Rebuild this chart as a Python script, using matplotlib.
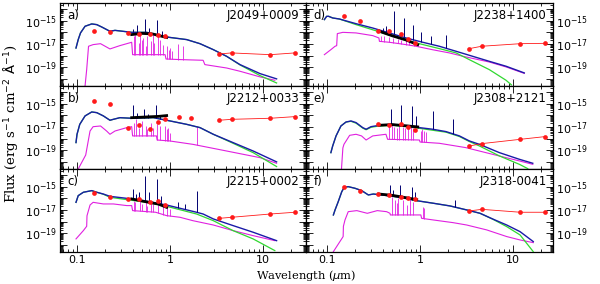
import numpy as np
import matplotlib
matplotlib.use("Agg")
import matplotlib.pyplot as plt
from matplotlib.ticker import LogLocator, NullFormatter, FixedFormatter, FixedLocator

# ---------------- data (log10 flux, wavelengths in micron) ----------------
names = ["J2049+0009", "J2212+0033", "J2215+0002", "J2238+1400", "J2308+2121", "J2318-0041"]
tags = ["a)", "b)", "c)", "d)", "e)", "f)"]

galex = [0.1528, 0.2271]
sdss = [0.3551, 0.4686, 0.6166, 0.7480, 0.8932]
tmass = [1.235, 1.662]
wise = [3.4, 4.6, 12.0, 22.0]

# --- a) J2049+0009
a_blue_wl = [0.0975, 0.103, 0.109, 0.122, 0.144, 0.163, 0.184, 0.226, 0.256, 0.387, 0.561, 0.92, 1.51, 2.10, 2.92, 4.06, 5.66, 9.29, 14.0]
a_blue_f = [-17.35, -16.63, -16.06, -15.49, -15.29, -15.35, -15.55, -15.92, -15.84, -16.01, -16.01, -16.41, -16.63, -16.98, -17.49, -18.06, -18.77, -19.54, -19.99]
a_green_wl = a_blue_wl
a_green_f = [-17.35, -16.63, -16.06, -15.49, -15.29, -15.35, -15.55, -15.92, -15.84, -16.01, -16.01, -16.41, -16.63, -16.98, -17.49, -18.06, -18.80, -19.71, -20.34]
a_mag_wl = [0.122, 0.127, 0.133, 0.149, 0.179, 0.226, 0.288, 0.387, 0.396, 0.885, 0.906, 1.28, 2.27, 2.37, 4.06, 5.66, 9.29, 13.4]
a_mag_f = [-20.6, -19.2, -17.2, -17.06, -16.98, -17.43, -17.15, -16.86, -17.92, -17.92, -18.29, -18.34, -18.40, -18.77, -19.06, -19.34, -19.82, -20.11]
a_nav_wl = [0.396, 0.445, 0.538, 0.600, 0.718, 0.813, 0.905]
a_nav_top = [-15.72, -15.35, -14.87, -15.64, -14.98, -15.92, -16.2]
a_ml_wl = [0.410, 0.424, 0.460, 0.480, 0.500, 0.516, 0.552, 0.570, 0.624, 0.650, 0.677, 0.748, 0.780, 0.847, 0.935, 0.966, 1.0, 1.05, 1.23, 1.39]
a_ml_top = [-16.35, -16.21, -16.92, -16.06, -16.63, -16.49, -17.20, -16.35, -16.78, -16.21, -16.92, -16.35, -16.63, -17.06, -17.20, -17.49, -17.35, -17.63, -16.98, -17.20]
a_obs_wl = [0.387, 0.5, 0.65, 0.92]
a_obs_f = [-16.2, -16.1, -16.15, -16.45]
a_phot_wl = galex + sdss + wise
a_phot_f = [-15.86, -16.01, -16.06, -16.15, -16.15, -16.26, -16.35, -17.86, -17.77, -17.92, -17.77]

# --- b) J2212+0033
b_blue_wl = [0.0975, 0.1, 0.107, 0.122, 0.144, 0.163, 0.192, 0.226, 0.246, 0.289, 0.387, 0.66, 0.92, 1.51, 2.10, 2.92, 4.76, 7.83, 14.0]
b_blue_f = [-18.34, -17.63, -16.78, -16.06, -15.72, -15.78, -16.06, -16.43, -16.35, -16.21, -16.26, -16.21, -16.43, -16.78, -17.06, -17.63, -18.34, -19.06, -19.99]
b_green_wl = b_blue_wl
b_green_f = [-18.34, -17.63, -16.78, -16.06, -15.72, -15.78, -16.06, -16.43, -16.35, -16.21, -16.26, -16.21, -16.43, -16.78, -17.06, -17.63, -18.40, -19.20, -20.39]
b_mag_wl = [0.103, 0.124, 0.138, 0.149, 0.179, 0.208, 0.226, 0.256, 0.343, 0.387, 0.396, 0.715, 0.727, 0.99, 1.76, 4.06, 9.29, 14.0]
b_mag_f = [-20.6, -19.4, -17.35, -16.98, -16.92, -17.35, -17.63, -17.35, -17.06, -16.98, -17.77, -17.77, -18.12, -18.20, -18.49, -19.06, -19.63, -20.11]
b_nav_wl = [0.396, 0.445, 0.525, 0.584, 0.706, 0.780]
b_nav_top = [-15.15, -15.78, -15.44, -15.92, -15.15, -16.01]
b_ml_wl = [0.410, 0.431, 0.467, 0.496, 0.552, 0.570, 0.619, 0.659, 0.727, 0.780, 0.890, 0.920, 0.958, 1.0, 1.96]
b_ml_top = [-16.63, -16.35, -17.06, -16.49, -16.92, -17.20, -16.63, -17.06, -16.78, -16.92, -16.92, -17.20, -17.06, -17.49, -16.92]
b_obs_wl = [0.387, 0.55, 0.75, 0.92]
b_obs_f = [-16.21, -16.15, -16.10, -16.03]
b_phot_wl = galex + sdss + tmass + wise
b_phot_f = [-14.78, -15.01, -17.12, -16.86, -17.20, -16.58, -16.35, -16.15, -16.24, -16.43, -16.35, -16.26, -16.12]

# --- c) J2215+0002
c_blue_wl = [0.0975, 0.103, 0.117, 0.144, 0.163, 0.192, 0.226, 0.343, 0.561, 0.92, 1.28, 1.93, 2.27, 2.92, 4.76, 7.83, 14.0]
c_blue_f = [-16.35, -15.78, -15.49, -15.35, -15.49, -15.64, -15.84, -16.01, -16.26, -16.58, -16.86, -17.20, -17.35, -17.77, -18.34, -18.91, -19.63]
c_green_wl = [0.0975, 0.103, 0.117, 0.144, 0.163, 0.192, 0.226, 0.343, 0.561, 0.92, 1.93, 2.92, 4.76, 7.83, 13.4]
c_green_f = [-16.35, -15.78, -15.49, -15.35, -15.49, -15.66, -15.92, -16.12, -16.35, -16.69, -17.35, -17.92, -18.77, -19.48, -20.48]
c_mag_wl = [0.0975, 0.117, 0.127, 0.128, 0.138, 0.149, 0.192, 0.246, 0.343, 0.387, 0.396, 0.70, 0.92, 1.28, 1.76, 2.92, 4.76, 7.83, 13.4]
c_mag_f = [-19.48, -18.77, -18.4, -17.5, -16.58, -16.35, -16.49, -16.49, -16.63, -16.63, -17.06, -17.20, -17.49, -17.63, -17.92, -18.29, -18.77, -19.2, -19.63]
c_nav_wl = [0.396, 0.431, 0.460, 0.538, 0.590, 0.718, 0.796, 1.23, 1.45, 1.93]
c_nav_top = [-15.21, -15.64, -15.49, -14.13, -15.49, -14.35, -15.78, -16.29, -16.49, -15.35]
c_ml_wl = [0.410, 0.424, 0.476, 0.496, 0.552, 0.570, 0.619, 0.659, 0.748, 0.847, 0.920, 1.0]
c_ml_top = [-16.21, -16.35, -16.06, -16.49, -16.35, -16.63, -16.21, -16.49, -16.35, -16.63, -16.78, -16.92]
c_obs_wl = [0.387, 0.55, 0.75, 0.92]
c_obs_f = [-16.06, -16.30, -16.50, -16.78]
c_phot_wl = galex + sdss + wise
c_phot_f = [-15.58, -15.86, -16.06, -16.06, -16.35, -16.26, -16.58, -17.72, -17.63, -17.35, -17.20]

# --- d) J2238+1400
d_blue_wl = [0.0936, 0.099, 0.104, 0.115, 0.136, 0.205, 0.310, 0.468, 0.707, 1.07, 1.61, 2.44, 3.68, 5.56, 8.41, 13.2]
d_blue_f = [-14.92, -14.64, -14.64, -14.78, -14.87, -15.27, -15.64, -16.06, -16.49, -16.86, -17.20, -17.63, -18.06, -18.49, -18.91, -19.48]
d_green_wl = [0.0936, 0.099, 0.104, 0.115, 0.136, 0.205, 0.35, 0.707, 1.61, 2.44, 3.68, 5.56, 8.41, 9.6]
d_green_f = [-14.92, -14.64, -14.64, -14.78, -14.87, -15.35, -15.92, -16.70, -17.40, -17.77, -18.49, -19.20, -20.11, -20.5]
d_mag_wl = [0.0936, 0.110, 0.122, 0.127, 0.129, 0.148, 0.205, 0.310, 0.361, 0.366, 0.468, 0.707, 0.905, 1.35, 2.07, 2.9, 5.56, 8.41, 13.2]
d_mag_f = [-17.92, -17.49, -17.20, -17.15, -16.12, -16.01, -16.06, -16.29, -16.49, -16.78, -16.86, -17.06, -17.20, -17.49, -17.77, -18.06, -18.55, -18.97, -19.52]
d_nav_wl = [0.404, 0.431, 0.529, 0.678, 0.834, 1.02, 1.31, 1.90]
d_nav_top = [-15.64, -15.49, -14.21, -14.78, -15.35, -16.01, -16.35, -16.21]
d_ml_wl = [0.380, 0.413, 0.468, 0.508, 0.575, 0.624, 0.707, 0.767, 0.869]
d_ml_top = [-16.29, -16.35, -16.43, -16.49, -16.55, -16.63, -16.69, -16.78, -16.86]
d_obs_wl = [0.366, 0.5, 0.7, 0.944]
d_obs_f = [-15.92, -16.30, -16.65, -17.06]
d_phot_wl = galex + sdss + wise
d_phot_f = [-14.61, -15.01, -15.86, -15.86, -16.18, -16.61, -16.95, -17.40, -17.20, -16.98, -16.95]

# --- e) J2308+2121
e_blue_wl = [0.110, 0.115, 0.125, 0.141, 0.160, 0.181, 0.205, 0.242, 0.263, 0.297, 0.365, 0.508, 0.707, 0.984, 1.37, 1.90, 2.65, 3.39, 4.35, 7.13, 11.7, 16.3]
e_blue_f = [-19.20, -18.63, -17.77, -16.92, -16.58, -16.49, -16.63, -17.06, -17.20, -16.98, -16.86, -16.78, -16.92, -17.06, -17.20, -17.40, -17.77, -18.20, -18.49, -19.20, -19.77, -20.11]
e_green_wl = [0.110, 0.115, 0.125, 0.141, 0.160, 0.181, 0.205, 0.242, 0.263, 0.297, 0.365, 0.508, 0.707, 0.984, 1.90, 2.65, 3.39, 4.35, 7.13, 11.7, 14.4]
e_green_f = [-19.20, -18.63, -17.77, -16.92, -16.58, -16.52, -16.68, -17.10, -17.24, -17.03, -16.92, -16.86, -16.98, -17.12, -17.45, -17.82, -18.25, -18.63, -19.48, -20.20, -20.57]
e_mag_wl = [0.143, 0.148, 0.152, 0.175, 0.205, 0.235, 0.263, 0.31, 0.43, 0.448, 0.984, 1.0, 1.61, 3.1, 6.0, 11.7, 16.3]
e_mag_f = [-20.6, -18.8, -18.49, -17.72, -17.63, -17.77, -18.12, -17.77, -17.63, -18.06, -18.12, -18.29, -18.40, -18.77, -19.34, -19.91, -20.2]
e_nav_wl = [0.487, 0.624, 0.820, 0.905, 1.37, 2.25]
e_nav_top = [-15.44, -15.15, -15.21, -16.06, -15.64, -16.35]
e_ml_wl = [0.468, 0.500, 0.529, 0.562, 0.600, 0.650, 0.694, 0.738, 0.800, 0.848, 1.02, 1.06, 1.11, 1.16]
e_ml_top = [-16.92, -16.86, -16.98, -17.06, -16.92, -17.0, -17.06, -16.92, -17.0, -17.06, -17.35, -17.20, -17.35, -17.43]
e_obs_wl = [0.365, 0.5, 0.7, 0.944]
e_obs_f = [-16.86, -16.80, -16.90, -17.00]
e_phot_wl = sdss + wise
e_phot_f = [-16.78, -16.86, -16.78, -16.98, -17.26, -18.63, -18.43, -18.06, -17.83]

# --- f) J2318-0041
f_blue_wl = [0.117, 0.122, 0.132, 0.144, 0.153, 0.169, 0.2, 0.236, 0.278, 0.315, 0.387, 0.61, 0.92, 1.39, 2.10, 3.17, 4.42, 6.14, 8.55, 11.9, 16.5]
f_blue_f = [-17.43, -17.0, -16.29, -15.44, -15.07, -15.01, -15.15, -15.35, -15.72, -15.64, -15.72, -15.92, -16.21, -16.43, -16.66, -17.0, -17.29, -17.80, -18.29, -18.86, -19.71]
f_green_wl = f_blue_wl
f_green_f = [-17.43, -17.0, -16.29, -15.44, -15.07, -15.01, -15.15, -15.35, -15.72, -15.64, -15.72, -15.92, -16.21, -16.43, -16.66, -17.0, -17.29, -17.82, -18.43, -19.14, -20.57]
f_mag_wl = [0.117, 0.149, 0.150, 0.156, 0.169, 0.209, 0.271, 0.347, 0.437, 0.475, 0.48, 1.02, 1.04, 1.39, 2.27, 3.17, 5.21, 8.55, 11.9, 16.5]
f_mag_f = [-20.57, -19.28, -18.4, -17.86, -17.15, -17.06, -17.29, -17.06, -17.15, -17.29, -17.43, -17.43, -17.72, -17.86, -18.09, -18.29, -18.71, -19.28, -19.57, -19.80]
f_nav_wl = [0.475, 0.516, 0.610, 0.813, 0.883, 2.38]
f_nav_top = [-14.87, -15.3, -14.87, -15.01, -15.5, -16.15]
f_ml_wl = [0.496, 0.538, 0.561, 0.585, 0.662, 0.718, 0.780, 0.847, 1.07, 1.10]
f_ml_top = [-15.86, -16.15, -16.43, -16.01, -16.15, -16.58, -16.01, -16.29, -16.72, -16.86]
f_obs_wl = [0.36, 0.5, 0.7, 0.92]
f_obs_f = [-15.64, -15.75, -15.95, -16.12]
f_phot_wl = galex + sdss + wise
f_phot_f = [-15.07, -15.38, -15.64, -15.72, -15.86, -16.01, -16.09, -17.09, -16.95, -17.20, -17.20]

# axis ticks
x_ticks = [0.1, 1, 10]
x_labels = ["0.1", "1", "10"]
y_decades = [-20, -19, -18, -17, -16, -15, -14]
y_labeled = [-19, -17, -15]

# ---------------- styling ----------------
C_BLUE = "#1a1aa8"
C_NAVY = "#000070"
C_GREEN = "#30d830"
C_MAG = "#e020e0"
C_RED = "#ff1a1a"
XLIM = [(0.0656, 29.0), (0.0594, 26.9)]
YLIM = (10**-20.6, 10**-13.5)

panels = [
    (a_blue_wl, a_blue_f, a_green_wl, a_green_f, a_mag_wl, a_mag_f, a_nav_wl, a_nav_top, a_ml_wl, a_ml_top, a_obs_wl, a_obs_f, a_phot_wl, a_phot_f),
    (b_blue_wl, b_blue_f, b_green_wl, b_green_f, b_mag_wl, b_mag_f, b_nav_wl, b_nav_top, b_ml_wl, b_ml_top, b_obs_wl, b_obs_f, b_phot_wl, b_phot_f),
    (c_blue_wl, c_blue_f, c_green_wl, c_green_f, c_mag_wl, c_mag_f, c_nav_wl, c_nav_top, c_ml_wl, c_ml_top, c_obs_wl, c_obs_f, c_phot_wl, c_phot_f),
    (d_blue_wl, d_blue_f, d_green_wl, d_green_f, d_mag_wl, d_mag_f, d_nav_wl, d_nav_top, d_ml_wl, d_ml_top, d_obs_wl, d_obs_f, d_phot_wl, d_phot_f),
    (e_blue_wl, e_blue_f, e_green_wl, e_green_f, e_mag_wl, e_mag_f, e_nav_wl, e_nav_top, e_ml_wl, e_ml_top, e_obs_wl, e_obs_f, e_phot_wl, e_phot_f),
    (f_blue_wl, f_blue_f, f_green_wl, f_green_f, f_mag_wl, f_mag_f, f_nav_wl, f_nav_top, f_ml_wl, f_ml_top, f_obs_wl, f_obs_f, f_phot_wl, f_phot_f),
]


def base_of(wl, curve_wl, curve_f):
    # continuum level under each line, taken from the curve itself
    return 10**np.interp(np.log10(wl), np.log10(curve_wl), curve_f)


fig = plt.figure(figsize=(6.0, 2.84), dpi=100)
col_x = [60 / 600, 306 / 600]
col_w = [246 / 600, 247 / 600]

y_tick_vals = [10.0**e for e in y_decades]
y_tick_txt = [r"$10^{%d}$" % e if e in y_labeled else "" for e in y_decades]

for i, p in enumerate(panels):
    (bw, bf, gw, gf, mw, mf, nw, nt, lw_, lt, ow, of, pw, pf) = p
    col, row = i // 3, i % 3
    bottom = 1 - (3 + 83 * (row + 1)) / 284
    ax = fig.add_axes([col_x[col], bottom, col_w[col], 83 / 284])
    ax.set_xscale("log")
    ax.set_yscale("log")

    ax.plot(mw, 10**np.array(mf), color=C_MAG, lw=0.8, zorder=2)
    ax.vlines(lw_, base_of(lw_, mw, mf), 10**np.array(lt), color=C_MAG, lw=0.6, zorder=2)
    ax.plot(gw, 10**np.array(gf), color=C_GREEN, lw=0.9, zorder=3)
    ax.plot(bw, 10**np.array(bf), color=C_BLUE, lw=1.0, zorder=4)
    ax.vlines(nw, base_of(nw, bw, bf), 10**np.array(nt), color=C_NAVY, lw=0.7, zorder=4)
    ax.plot(ow, 10**np.array(of), color="k", lw=2.0, zorder=5)

    pw = np.array(pw)
    pf = 10**np.array(pf)
    ax.plot(pw[-4:], pf[-4:], color=C_RED, lw=0.6, zorder=6)
    ax.plot(pw, pf, "o", color=C_RED, ms=3.4, mec="none", zorder=7)

    ax.set_xlim(*XLIM[col])
    ax.set_ylim(*YLIM)

    ax.xaxis.set_major_locator(FixedLocator(x_ticks))
    ax.xaxis.set_major_formatter(FixedFormatter(x_labels))
    ax.xaxis.set_minor_locator(LogLocator(base=10, subs=np.arange(2, 10), numticks=20))
    ax.xaxis.set_minor_formatter(NullFormatter())
    ax.yaxis.set_major_locator(FixedLocator(y_tick_vals))
    ax.yaxis.set_major_formatter(FixedFormatter(y_tick_txt))
    ax.yaxis.set_minor_locator(LogLocator(base=10, subs=np.arange(2, 10), numticks=30))
    ax.yaxis.set_minor_formatter(NullFormatter())

    ax.tick_params(which="both", direction="in", top=True, right=True,
                   labelsize=8, pad=2, width=0.6)
    ax.tick_params(which="major", length=5)
    ax.tick_params(which="minor", length=2.5)
    if row != 2:
        ax.tick_params(labelbottom=False)
    if col == 1:
        ax.tick_params(labelleft=False, labelright=True)
    for s in ax.spines.values():
        s.set_linewidth(0.9)

    ax.text(0.03, 0.93, tags[i], transform=ax.transAxes, ha="left", va="top", fontsize=8.5)
    ax.text(0.975, 0.93, names[i], transform=ax.transAxes, ha="right", va="top", fontsize=8.5)

fig.text(0.017, 0.565, r"Flux (erg s$^{-1}$ cm$^{-2}$ $\mathrm{\AA}^{-1}$)", rotation=90,
         ha="center", va="center", fontsize=9.5, family="DejaVu Serif")
fig.text(0.51, 0.03, r"Wavelength ($\mu$m)", ha="center", va="center",
         fontsize=8.2, family="DejaVu Serif")

fig.savefig("out.png", dpi=100)
